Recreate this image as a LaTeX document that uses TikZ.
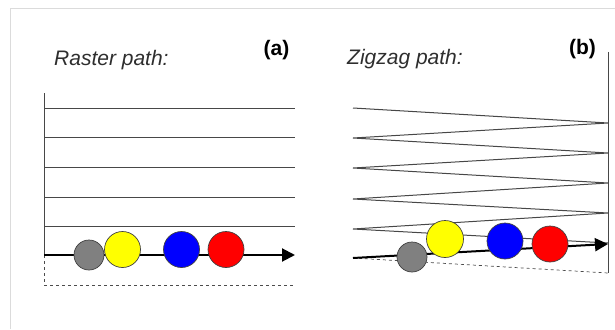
\documentclass[tikz,border=0pt]{standalone}
\usepackage{fontspec}
\setmainfont{Liberation Sans}
\usetikzlibrary{arrows.meta}
\begin{document}
\begin{tikzpicture}[x=1pt,y=-1pt,
  thinline/.style={draw=black!72, line width=1pt},
  ball/.style={circle, draw=black!75, line width=0.7pt, minimum size=36pt, inner sep=0pt},
  smallball/.style={ball, minimum size=30pt},
  axisline/.style={line width=2pt, -{Triangle[length=13pt,width=13pt]}},
  dashline/.style={dashed, line width=0.7pt, draw=black!70},
  ptitle/.style={font=\fontsize{21}{24}\selectfont\itshape, text=black!82, anchor=base west, inner sep=0pt},
  plabel/.style={font=\fontsize{21}{24}\selectfont\bfseries, anchor=base, inner sep=0pt}]
\useasboundingbox (0,0) rectangle (615,329);
% frame
\coordinate (f1) at (10,329);
\coordinate (f2) at (10,9);
\coordinate (f3) at (615,9);
\draw[black!14, line width=1pt] (f1) -- (f2) -- (f3);

% ---------- panel (a) ----------
\node[ptitle] (ta) at (54,65) {Raster path:};
\node[plabel] (la) at (276.5,56) {(a)};
\coordinate (atop) at (44,93);
\coordinate (a0) at (44,255);
\coordinate (abl) at (44,285);
\coordinate (abr) at (295,285);
\coordinate (a1) at (295,255);
\draw[thinline] (atop) -- (a0);
\foreach \i/\y in {1/108,2/137,3/167,4/197,5/226}{
  \coordinate (al\i) at (44,\y);
  \coordinate (ar\i) at (295,\y);
  \draw[thinline] (al\i) -- (ar\i);
}
\draw[dashline] (a0) -- (abl) -- (abr);
\draw[axisline] (a0) -- (a1);
\node[smallball, fill={rgb,255:red,128;green,128;blue,128}] (ag) at (89,255) {};
\node[ball, fill={rgb,255:red,255;green,255;blue,0}] (ay) at (122.5,249.5) {};
\node[ball, fill={rgb,255:red,0;green,0;blue,255}] (ab) at (181.5,249.5) {};
\node[ball, fill={rgb,255:red,255;green,0;blue,0}] (ar) at (226,249.5) {};

% ---------- panel (b) ----------
\node[ptitle] (tb) at (347,64) {Zigzag path:};
\node[plabel] (lb) at (582.5,55) {(b)};
\coordinate (btop) at (608,52);
\coordinate (bbot) at (608,273);
\draw[thinline] (btop) -- (bbot);
\coordinate (z1) at (353,108);
\coordinate (z2) at (608,123);
\coordinate (z3) at (353,138);
\coordinate (z4) at (608,153);
\coordinate (z5) at (353,168);
\coordinate (z6) at (608,183);
\coordinate (z7) at (353,199);
\coordinate (z8) at (608,213);
\coordinate (z9) at (353,229);
\coordinate (z10) at (608,243);
\draw[thinline] (z1) -- (z2) -- (z3) -- (z4) -- (z5) -- (z6) -- (z7) -- (z8) -- (z9) -- (z10);
\coordinate (b0) at (353,258);
\coordinate (b1) at (608,244);
\draw[dashline] (b0) -- (bbot);
\draw[axisline] (b0) -- (b1);
\node[smallball, fill={rgb,255:red,128;green,128;blue,128}] (bg) at (412,257) {};
\node[ball, minimum size=37pt, fill={rgb,255:red,255;green,255;blue,0}] (by) at (445,239) {};
\node[ball, fill={rgb,255:red,0;green,0;blue,255}] (bb) at (505,241) {};
\node[ball, fill={rgb,255:red,255;green,0;blue,0}] (br) at (550,244) {};
\end{tikzpicture}
\end{document}
